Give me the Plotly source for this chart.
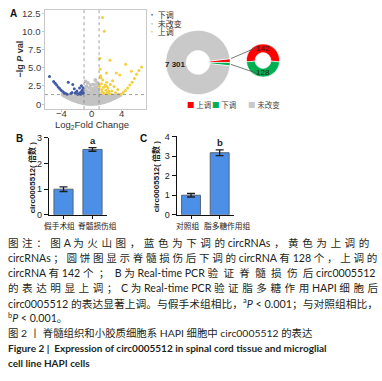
import plotly.graph_objects as go

W, H = 382, 381


def px(x):
    return x / W


def py(y):
    return 1 - y / H


# ---------------- Data ----------------
# Volcano plot (log2 fold change, -lg P)
gray_points = [
    (-3.85, 1.26), (-3.6, 1.12), (-3.35, 0.98), (-3.1, 0.84), (-2.85, 0.72), (-2.6, 0.6),
    (-2.35, 0.5), (-2.1, 0.4), (-1.85, 0.32), (-1.6, 0.25), (-1.35, 0.18), (-1.1, 0.12),
    (-0.85, 0.08), (-0.6, 0.05), (-0.35, 0.03), (-0.12, 0.02), (0.12, 0.02), (0.35, 0.03),
    (0.6, 0.05), (0.85, 0.08), (1.1, 0.12), (1.35, 0.18), (1.6, 0.24), (1.85, 0.31),
    (2.1, 0.4), (2.35, 0.49), (2.6, 0.6), (2.85, 0.71), (3.1, 0.83), (3.35, 0.97),
    (3.6, 1.11), (3.85, 1.25),
    (-3.5, 1.25), (-3.2, 1.1), (-3.0, 1.22), (-2.8, 0.95), (-2.6, 1.15), (-2.5, 0.8),
    (-2.3, 1.05), (-2.2, 0.7), (-2.0, 1.2), (-2.0, 0.6), (-1.9, 0.9), (-1.8, 0.5),
    (-1.7, 1.1), (-1.6, 0.75), (-1.5, 0.4), (-1.4, 1.25), (-1.4, 0.95), (-1.3, 0.6),
    (-1.2, 0.3), (-1.1, 1.0), (-1.05, 0.75), (-1.0, 0.45), (-0.9, 1.2), (-0.9, 0.25),
    (-0.8, 0.85), (-0.75, 0.55), (-0.7, 1.45), (-0.6, 0.2), (-0.55, 1.05), (-0.5, 0.7),
    (-0.45, 0.4), (-0.4, 1.3), (-0.35, 0.15), (-0.3, 0.9), (-0.25, 0.55), (-0.2, 1.15),
    (-0.15, 0.3), (-0.1, 0.75), (0.0, 0.1), (0.05, 1.0), (0.1, 0.45), (0.15, 1.35),
    (0.2, 0.2), (0.25, 0.7), (0.3, 1.1), (0.35, 0.35), (0.45, 0.9), (0.5, 0.15),
    (0.55, 1.25), (0.6, 0.55), (0.7, 0.3), (0.75, 0.8), (0.8, 1.1), (0.9, 0.5),
    (0.95, 0.2), (1.0, 0.95), (1.05, 0.7), (1.1, 1.25), (1.2, 0.4), (1.3, 0.85),
    (1.4, 1.1), (1.45, 0.6), (1.55, 0.35), (1.65, 1.0), (1.75, 0.75), (1.85, 1.25),
    (1.9, 0.5), (2.05, 0.95), (2.15, 0.7), (2.3, 1.15), (2.4, 0.85), (2.55, 1.0),
    (2.7, 1.2), (2.8, 0.9), (3.0, 1.1), (3.2, 1.25), (3.4, 1.15), (3.65, 1.28),
    (-0.95, 1.6), (-0.85, 2.0), (-0.7, 2.4), (-0.6, 1.75), (-0.5, 2.9), (-0.45, 1.5),
    (-0.3, 2.2), (-0.2, 1.6), (-0.1, 2.6), (0.0, 1.8), (0.1, 2.1), (0.2, 1.5),
    (0.3, 2.7), (0.4, 1.9), (0.55, 2.3), (0.65, 1.6), (0.75, 2.9), (0.85, 2.0),
    (0.95, 1.5), (0.9, 2.5), (-0.8, 3.1), (0.5, 3.3),
]
down_points = [
    (-5.6, 3.8), (-5.05, 3.1), (-4.85, 2.85), (-4.65, 2.6), (-4.45, 2.35), (-4.25, 2.12),
    (-4.05, 1.9), (-3.85, 1.72), (-3.65, 1.56), (-3.45, 1.44), (-3.25, 1.34), (-3.1, 3.0),
    (-2.5, 2.68), (-2.3, 2.1), (-2.75, 1.45), (-2.6, 1.6), (-2.2, 1.5), (-1.95, 1.8),
    (-1.7, 1.4), (-1.6, 2.2), (-1.5, 1.6), (-1.35, 2.5), (-1.25, 1.9), (-1.2, 1.45),
    (-1.1, 1.55), (-1.45, 1.35), (-1.85, 1.35), (-1.15, 2.25), (-2.05, 1.62), (-1.3, 1.7),
]
up_points = [
    (1.45, 11.9), (1.7, 10.0), (2.45, 6.0), (4.55, 5.45), (2.0, 4.25), (3.3, 4.25),
    (3.75, 4.0), (5.3, 4.5), (1.1, 6.3), (1.15, 4.8), (1.2, 3.9), (1.25, 3.6),
    (1.3, 2.8), (1.4, 1.7), (1.5, 3.3), (1.6, 2.3), (1.7, 1.45), (1.8, 2.6),
    (1.9, 1.9), (2.0, 3.0), (2.1, 1.6), (2.2, 2.2), (2.4, 1.4), (2.5, 2.7),
    (2.7, 1.8), (2.8, 3.2), (3.0, 2.4), (3.2, 1.55), (3.5, 2.0), (1.05, 2.4),
    (3.9, 1.35), (4.2, 1.6), (4.5, 1.85), (4.8, 2.2), (5.1, 2.6), (5.4, 3.0),
    (5.7, 3.5), (6.0, 4.1), (6.3, 4.6), (6.65, 5.1), (1.35, 2.0), (1.55, 1.5),
    (2.3, 1.75), (1.95, 2.45),
]
volcano_xticks = [-4, 0, 4]
volcano_xticktext = ["−4", "0", "4"]
volcano_yticks = [0, 2.5, 5, 7.5, 10, 12.5]
volcano_yticktext = ["0", "2.5", "5.0", "7.5", "10.0", "12.5"]
fc_cut = 1.0
p_cut = 1.3
volcano_groups = ["下调", "未改变", "上调"]

# Donut (pie of pie)
donut_labels = ["上调", "下调", "未改变"]
donut_values = [142, 128, 7301]

# Bar charts
b_groups = ["假手术组", "脊髓损伤组"]
b_means = [1.0, 2.55]
b_err = [0.09, 0.07]
b_sig = ["", "a"]
b_ticks = [0, 1, 2, 3]

c_groups = ["对照组", "脂多糖作用组"]
c_means = [1.0, 3.17]
c_err = [0.09, 0.15]
c_sig = ["", "b"]
c_ticks = [0, 1, 2, 3, 4]

bar_ytitle = "circ0005512( 倍数 )"

caption_lines = [
    "图注：图 A 为火山图，蓝色为下调的 circRNAs，黄色为上调的",
    "circRNAs；圆饼图显示脊髓损伤后下调的 circRNA 有 128 个，上调的",
    "circRNA 有 142 个；B 为 Real-time PCR 验证脊髓损伤后 circ0005512",
    "的表达明显上调；C 为 Real-time PCR 验证脂多糖作用 HAPI 细胞后",
    "circ0005512 的表达显著上调。与假手术组相比，<sup>a</sup><i>P</i> &lt; 0.001；与对照组相比，",
    "<sup>b</sup><i>P</i> &lt; 0.001。",
    "图 2 丨 脊髓组织和小胶质细胞系 HAPI 细胞中 circ0005512 的表达",
    "<b>Figure 2 |  Expression of circ0005512 in spinal cord tissue and microglial</b>",
    "<b>cell line HAPI cells</b>",
]

# ---------------- Styles ----------------
C_GRAY = "#c3c3c3"
C_DOWN = "#3f5ba4"
C_UP = "#f3cf3a"
DONUT_COLORS = ["#ff0000", "#00b050", "#c9c9c9"]
BAR_FILL = "#4b8fe6"
BAR_EDGE = "#56647a"
CJK = "Noto Sans CJK SC"
LAT = "Liberation Sans, Arial, Noto Sans CJK SC"
CAP = "Lato, Noto Sans CJK SC"


def is_cjk(ch):
    return ord(ch) >= 0x2E80


def spread(s, gap):
    out = []
    for i, ch in enumerate(s):
        out.append(ch)
        if i < len(s) - 1:
            nxt = s[i + 1]
            if ch != " " and nxt != " " and (is_cjk(ch) or is_cjk(nxt)):
                out.append(gap)
    return "".join(out)


fig = go.Figure()

# Volcano
for pts, col, sz in [(gray_points, C_GRAY, 4), (down_points, C_DOWN, 3), (up_points, C_UP, 3)]:
    fig.add_trace(go.Scatter(
        x=[p[0] for p in pts], y=[p[1] for p in pts], mode="markers",
        marker=dict(size=sz, color=col, line=dict(width=0)),
        xaxis="x", yaxis="y", showlegend=False, hoverinfo="skip"))

# Bars
for groups, means, errs, xa, ya in [(b_groups, b_means, b_err, "x2", "y2"),
                                    (c_groups, c_means, c_err, "x3", "y3")]:
    fig.add_trace(go.Bar(
        x=groups, y=means, width=0.66,
        error_y=dict(type="data", array=errs, color="#1e1e1e", thickness=1.3, width=4),
        marker=dict(color=BAR_FILL, line=dict(color=BAR_EDGE, width=1)),
        xaxis=xa, yaxis=ya, showlegend=False, hoverinfo="skip"))

# Big donut
total = sum(donut_values)
rot_big = 90 - 360 * donut_values[0] / total
fig.add_trace(go.Pie(
    labels=donut_labels, values=donut_values, hole=0.37, sort=False,
    direction="clockwise", rotation=rot_big,
    marker=dict(colors=DONUT_COLORS, line=dict(color="white", width=0.6)),
    textinfo="none", hoverinfo="skip", showlegend=False,
    domain=dict(x=[px(165), px(231)], y=[py(92), py(26)])))
# Small donut (breakdown)
sub = donut_values[:2]
red_ang = 360 * sub[0] / sum(sub)
rot_small = -90 - (red_ang - 180) / 2
fig.add_trace(go.Pie(
    labels=donut_labels[:2], values=sub, hole=0.48, sort=False,
    direction="clockwise", rotation=rot_small,
    marker=dict(colors=DONUT_COLORS[:2], line=dict(color="white", width=0.6)),
    textinfo="none", hoverinfo="skip", showlegend=False,
    domain=dict(x=[px(246), px(280)], y=[py(74), py(40)])))

axis_common = dict(showgrid=False, zeroline=False)
fig.update_layout(
    width=W, height=H, margin=dict(l=0, r=0, t=0, b=0),
    paper_bgcolor="white", plot_bgcolor="rgba(0,0,0,0)",
    showlegend=False, font=dict(family=LAT, color="#333333", size=9),
    xaxis=dict(domain=[px(45), px(146)], range=[-6.2, 7.25], tickvals=volcano_xticks,
               showticklabels=False, showline=True, linecolor="#c8c8c8", linewidth=1,
               mirror=True, ticks="outside", ticklen=2, tickcolor="#c8c8c8",
               anchor="y", **axis_common),
    yaxis=dict(domain=[py(107), py(5)], range=[-0.71, 12.94], tickvals=volcano_yticks,
               showticklabels=False, showline=True, linecolor="#c8c8c8", linewidth=1,
               mirror=True, ticks="outside", ticklen=2, tickcolor="#c8c8c8",
               anchor="x", **axis_common),
    xaxis2=dict(domain=[px(49), px(107)], range=[-0.5, 1.5], showline=True,
                linecolor="#111", linewidth=1.2, ticks="outside", ticklen=3,
                tickcolor="#111", showticklabels=False, anchor="y2", **axis_common),
    yaxis2=dict(domain=[py(215.5), py(136.5)], range=[0, 3], tickvals=b_ticks,
                showline=True, linecolor="#111", linewidth=1.2, ticks="outside", ticklen=4,
                tickcolor="#111", tickfont=dict(size=9, color="#222"), anchor="x2",
                **axis_common),
    xaxis3=dict(domain=[px(176.7), px(234)], range=[-0.5, 1.5], showline=True,
                linecolor="#111", linewidth=1.2, ticks="outside", ticklen=3,
                tickcolor="#111", showticklabels=False, anchor="y3", **axis_common),
    yaxis3=dict(domain=[py(215.5), py(135)], range=[0, 4], tickvals=c_ticks,
                showline=True, linecolor="#111", linewidth=1.2, ticks="outside", ticklen=4,
                tickcolor="#111", tickfont=dict(size=9, color="#222"), anchor="x3",
                **axis_common),
)

shapes = []
for xv in (-fc_cut, fc_cut):
    shapes.append(dict(type="line", xref="x", yref="y domain", x0=xv, x1=xv, y0=0, y1=1,
                       line=dict(color="#777", width=0.7, dash="dot")))
shapes.append(dict(type="line", xref="x domain", yref="y", x0=0, x1=1, y0=p_cut, y1=p_cut,
                   line=dict(color="#777", width=0.7, dash="dot")))
# pie-of-pie connectors
shapes.append(dict(type="line", xref="paper", yref="paper", x0=px(231), y0=py(55),
                   x1=px(257), y1=py(43.5), line=dict(color="#555", width=0.8)))
shapes.append(dict(type="line", xref="paper", yref="paper", x0=px(231), y0=py(61),
                   x1=px(258), y1=py(70.5), line=dict(color="#555", width=0.8)))
fig.update_layout(shapes=shapes)

ann = []


def add_text(text, x, y, size, family=LAT, color="#333", xanchor="center",
             yanchor="middle", angle=0, **kw):
    d = dict(text=text, x=x, y=y, xref=kw.pop("xref", "paper"), yref=kw.pop("yref", "paper"),
             showarrow=False, xanchor=xanchor, yanchor=yanchor, textangle=angle,
             font=dict(size=size, family=family, color=color))
    d.update(kw)
    ann.append(d)


# volcano tick labels
for v, t in zip(volcano_xticks, volcano_xticktext):
    add_text(t, v, py(111.5), 9.5, color="#404040", xref="x")
for v, t in zip(volcano_yticks, volcano_yticktext):
    add_text(t, px(42.5), v, 9.5, color="#404040", yref="y", xanchor="right")

# panel letters
add_text("<b>A</b>", px(14), py(9), 10, color="#111")
add_text("<b>B</b>", px(19), py(137.5), 10, color="#111")
add_text("<b>C</b>", px(143), py(137.5), 10, color="#111")

# volcano titles
add_text("<b>−lg <i>P</i> val</b>", px(20), py(56), 9, color="#333", angle=-90)
add_text("Log<sub>2</sub>Fold Change", px(92), py(123), 9.5, color="#333")

# volcano legend
for lab, col, yy in zip(volcano_groups, [C_DOWN, C_GRAY, C_UP], [10, 18.5, 27]):
    add_text(f"<span style='color:{col}'>•</span> {lab}", px(146), py(yy), 8, family=CJK,
             color="#333", xanchor="left")

# donut legend
for lab, col, xx in zip(donut_labels, DONUT_COLORS, [184.5, 210, 245.5]):
    add_text(f"<span style='color:{col}'>■</span> {lab}", px(xx), py(102), 7.5, family=CJK,
             color="#444", xanchor="left")

# donut labels
add_text(f"<b>{donut_values[2]:,}</b>".replace(",", " "), px(175), py(61), 8, color="#222")
add_text(str(donut_values[0]), px(263), py(45), 8, color="#222")
add_text(str(donut_values[1]), px(263), py(69.5), 8, color="#222")

# bar y titles
add_text(f"<b>{bar_ytitle}</b>", px(32), py(178), 8, family=LAT, color="#222", angle=-90)
add_text(f"<b>{bar_ytitle}</b>", px(156), py(177), 8, family=LAT, color="#222", angle=-90)

# bar category labels and significance letters
for groups, means, errs, sig, xa, ya, shifts in [
        (b_groups, b_means, b_err, b_sig, "x2", "y2", [-4.5, 5]),
        (c_groups, c_means, c_err, c_sig, "x3", "y3", [-3.6, 7.7])]:
    for g, m, e, s, sh in zip(groups, means, errs, sig, shifts):
        add_text(g, g, py(226), 7.7, family=CJK, color="#222", xref=xa, xshift=sh)
        if s:
            add_text(f"<b>{s}</b>", g, m + e, 9.5, color="#222", xref=xa, yref=ya,
                     yanchor="bottom", yshift=0)

# caption
gaps = ["\u2004", "\u2005", "\u2004\u2006", "\u2004", "", "", "", "", ""]
sizes = [10.6, 10.6, 10.6, 10.6, 10.75, 10.6, 10.4, 10.0, 10.0]
for i, (line, gap, fs) in enumerate(zip(caption_lines, gaps, sizes)):
    txt = spread(line, gap) if gap else line
    add_text(txt, px(6), py(244 + 15.4 * i), fs, family=CAP, color="#231f20",
             xanchor="left")

fig.update_layout(annotations=ann)
fig.write_html("out.html", config={"displayModeBar": False},
               post_script="document.body.style.margin='0px';")
